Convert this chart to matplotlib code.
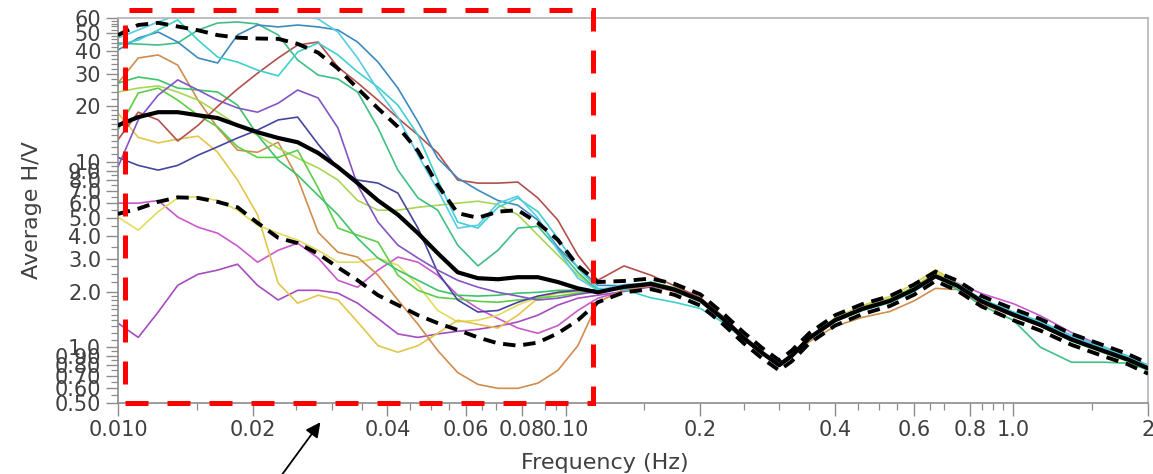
import matplotlib
matplotlib.use('Agg')
import matplotlib.pyplot as plt
from matplotlib.patches import Rectangle

# ---------------- data ----------------
freq = [0.0100, 0.0111, 0.0123, 0.0136, 0.0151, 0.0167, 0.0185, 0.0205, 0.0228, 0.0252,
        0.0280, 0.0310, 0.0343, 0.0381, 0.0422, 0.0468, 0.0518, 0.0574, 0.0637, 0.0706,
        0.0782, 0.0867, 0.0961, 0.1065, 0.1180,
        0.135, 0.155, 0.175, 0.20, 0.225, 0.25, 0.275, 0.30, 0.32, 0.35, 0.40, 0.46,
        0.53, 0.60, 0.67, 0.75, 0.85, 1.0, 1.15, 1.35, 1.6, 1.8, 2.0]

hv_steelblue = [40.3, 46.8, 50.4, 44.5, 36.5, 34.3, 48.6, 55.0, 53.7, 55.0, 53.7, 51.7, 44.5, 34.7, 25.1,
                16.5, 10.5, 8.2, 7.06, 6.2, 5.85, 4.86, 3.47, 2.71, 2.16,
                2.15, 2.18, 2.02, 1.76, 1.40, 1.10, 0.92, 0.80, 0.91, 1.14, 1.42, 1.60, 1.76, 2.02,
                2.40, 2.18, 1.80, 1.52, 1.36, 1.14, 0.98, 0.89, 0.79]
hv_seagreen = [44.0, 43.4, 42.9, 44.0, 51.7, 56.4, 57.1, 55.7, 48.6, 35.6, 29.5, 28.1, 23.9, 15.3, 9.05,
               6.4, 5.5, 3.56, 2.75, 3.34, 4.4, 4.5, 3.4, 2.54, 2.03,
               2.10, 2.25, 2.08, 1.82, 1.45, 1.14, 0.94, 0.81, 0.89, 1.10, 1.38, 1.60, 1.80, 2.10,
               2.45, 2.05, 1.68, 1.40, 1.00, 0.83, 0.83, 0.82, 0.76]
hv_turquoise = [42.9, 45.6, 51.7, 58.6, 45.6, 36.9, 34.7, 31.4, 29.2, 39.3, 44.0, 37.9, 30.7, 25.4, 20.3,
                14.0, 8.0, 4.74, 4.4, 5.7, 6.4, 5.4, 3.88, 2.67, 2.08,
                2.05, 1.85, 1.75, 1.62, 1.36, 1.10, 0.92, 0.79, 0.88, 1.10, 1.38, 1.58, 1.74, 2.00,
                2.38, 2.20, 1.82, 1.55, 1.38, 1.16, 1.00, 0.90, 0.80]
hv_cyan = [46.8, 51.7, 57.1, 62.3, 64.7, 66.3, 66.3, 64.7, 63.1, 62.3, 59.3, 50.4, 36.5, 24.5, 17.5,
           10.9, 7.06, 4.4, 4.56, 6.0, 6.55, 5.0, 3.34, 2.36, 2.03,
           2.18, 2.22, 2.06, 1.80, 1.43, 1.12, 0.93, 0.79, 0.90, 1.12, 1.41, 1.63, 1.80, 2.08,
           2.45, 2.20, 1.80, 1.54, 1.37, 1.15, 0.99, 0.89, 0.80]
hv_brownred = [13.2, 18.6, 16.9, 13.0, 15.8, 20.0, 24.8, 30.2, 36.5, 42.9, 44.5, 32.6, 26.8, 21.6, 17.3,
               14.0, 11.2, 8.0, 7.7, 7.7, 7.8, 6.4, 4.86, 3.14, 2.30,
               2.75, 2.45, 2.15, 1.85, 1.46, 1.14, 0.94, 0.81, 0.91, 1.13, 1.42, 1.64, 1.80, 2.06,
               2.42, 2.14, 1.76, 1.49, 1.31, 1.10, 0.95, 0.86, 0.77]
hv_peru = [26.7, 36.5, 37.9, 33.4, 21.6, 15.3, 11.6, 11.3, 12.8, 8.2, 4.18, 3.26, 3.07, 2.45, 1.80,
           1.33, 0.96, 0.73, 0.63, 0.60, 0.60, 0.64, 0.75, 1.02, 1.75,
           2.05, 2.15, 2.00, 1.76, 1.40, 1.10, 0.92, 0.80, 0.88, 1.07, 1.30, 1.45, 1.56, 1.78,
           2.08, 2.05, 1.72, 1.47, 1.30, 1.09, 0.94, 0.85, 0.76]
hv_purple = [9.4, 16.9, 23.0, 27.8, 24.5, 21.6, 19.6, 18.6, 20.8, 24.5, 22.2, 15.3, 7.5, 4.74, 3.56,
             3.03, 2.61, 2.30, 2.11, 1.98, 1.89, 1.80, 1.84, 1.93, 2.00,
             2.15, 2.22, 2.07, 1.83, 1.46, 1.14, 0.94, 0.80, 0.90, 1.13, 1.42, 1.62, 1.78, 2.05,
             2.40, 2.16, 1.78, 1.52, 1.34, 1.12, 0.97, 0.88, 0.78]
hv_navy = [10.6, 9.6, 9.05, 9.6, 10.9, 12.1, 13.5, 14.9, 16.9, 17.5, 12.5, 9.3, 8.0, 7.7, 6.8,
           4.4, 2.54, 1.80, 1.55, 1.58, 1.75, 1.89, 1.98, 2.03, 2.03,
           2.10, 2.17, 2.03, 1.78, 1.41, 1.11, 0.92, 0.79, 0.89, 1.11, 1.39, 1.59, 1.76, 2.02,
           2.38, 2.13, 1.75, 1.48, 1.31, 1.09, 0.94, 0.85, 0.76]
hv_lime = [14.9, 23.6, 25.1, 21.6, 17.9, 15.5, 12.1, 10.6, 10.6, 11.6, 7.25, 4.4, 4.03, 3.7, 2.45,
           2.03, 1.86, 1.82, 1.77, 1.75, 1.80, 1.84, 1.89, 1.96, 2.03,
           2.12, 2.24, 2.10, 1.84, 1.45, 1.13, 0.93, 0.80, 0.90, 1.12, 1.41, 1.62, 1.79, 2.08,
           2.46, 2.17, 1.77, 1.50, 1.30, 1.08, 0.93, 0.84, 0.75]
hv_emerald = [26.7, 28.8, 27.8, 25.1, 24.5, 23.9, 20.3, 14.0, 10.25, 8.5, 6.6, 5.2, 3.88, 3.03, 2.61,
              2.30, 2.03, 1.91, 1.89, 1.91, 1.96, 1.98, 2.03, 2.03, 2.03,
              2.08, 2.18, 2.05, 1.80, 1.43, 1.12, 0.93, 0.80, 0.90, 1.12, 1.40, 1.61, 1.77, 2.04,
              2.42, 2.15, 1.76, 1.49, 1.32, 1.11, 0.96, 0.87, 0.78]
hv_yellowgreen = [23.9, 25.1, 25.8, 23.9, 21.6, 18.6, 15.8, 14.0, 11.9, 10.5, 9.3, 8.0, 6.2, 5.5, 5.5,
                  5.7, 5.85, 6.0, 6.15, 5.9, 5.2, 4.03, 3.14, 2.45, 2.03,
                  2.14, 2.23, 2.08, 1.82, 1.44, 1.13, 0.93, 0.80, 0.91, 1.14, 1.44, 1.66, 1.83, 2.12,
                  2.50, 2.18, 1.78, 1.51, 1.33, 1.11, 0.96, 0.87, 0.78]
hv_gold = [18.4, 13.6, 12.7, 13.3, 13.8, 11.3, 8.0, 5.2, 2.22, 1.73, 1.91, 1.80, 1.37, 1.02, 0.94,
           1.02, 1.19, 1.40, 1.33, 1.27, 1.49, 1.84, 1.96, 2.00, 2.03,
           2.10, 2.20, 2.06, 1.81, 1.44, 1.13, 0.93, 0.80, 0.90, 1.13, 1.44, 1.68, 1.88, 2.20,
           2.62, 2.22, 1.78, 1.50, 1.31, 1.09, 0.94, 0.85, 0.76]
hv_khaki = [5.05, 4.29, 5.4, 6.4, 6.5, 6.2, 5.5, 4.56, 4.13, 3.79, 3.34, 2.88, 2.88, 3.03, 2.78,
            2.16, 1.58, 1.37, 1.40, 1.49, 1.69, 1.86, 1.98, 2.03, 2.03,
            2.09, 2.19, 2.05, 1.80, 1.43, 1.12, 0.92, 0.79, 0.89, 1.11, 1.40, 1.63, 1.82, 2.12,
            2.55, 2.20, 1.78, 1.50, 1.31, 1.09, 0.94, 0.85, 0.76]
hv_magenta = [6.0, 6.0, 6.2, 5.05, 4.45, 4.13, 3.52, 2.88, 3.34, 3.65, 3.03, 2.30, 2.11, 2.61, 3.07,
              2.88, 2.45, 1.91, 1.62, 1.43, 1.27, 1.19, 1.31, 1.58, 1.84,
              2.02, 2.15, 2.04, 1.82, 1.46, 1.15, 0.95, 0.82, 0.92, 1.14, 1.42, 1.62, 1.78, 2.04,
              2.40, 2.22, 1.95, 1.72, 1.48, 1.20, 1.00, 0.89, 0.79]
hv_violet = [1.35, 1.13, 1.55, 2.16, 2.48, 2.61, 2.81, 2.16, 1.80, 2.03, 2.03, 1.96, 1.73, 1.43, 1.18,
             1.13, 1.18, 1.22, 1.25, 1.30, 1.37, 1.49, 1.69, 1.84, 1.91,
             2.00, 2.12, 2.02, 1.79, 1.43, 1.13, 0.94, 0.81, 0.91, 1.13, 1.41, 1.61, 1.78, 2.05,
             2.42, 2.16, 1.79, 1.53, 1.35, 1.13, 0.97, 0.88, 0.78]

hv_mean = [15.8, 17.5, 18.6, 18.6, 17.9, 17.3, 15.8, 14.5, 13.5, 12.8, 11.2, 9.4, 7.7, 6.2, 5.2,
           4.13, 3.22, 2.54, 2.36, 2.33, 2.39, 2.39, 2.25, 2.08, 1.98,
           2.12, 2.20, 2.05, 1.80, 1.42, 1.12, 0.93, 0.80, 0.90, 1.12, 1.40, 1.61, 1.78, 2.05,
           2.42, 2.15, 1.77, 1.50, 1.32, 1.10, 0.95, 0.86, 0.77]
hv_upper = [48.5, 55.0, 56.5, 54.0, 51.5, 48.5, 47.0, 46.5, 46.3, 43.5, 39.0, 32.0, 25.0, 19.5, 15.5,
            11.5, 7.5, 5.3, 5.0, 5.4, 5.5, 4.7, 3.8, 2.75, 2.25,
            2.28, 2.35, 2.20, 1.93, 1.52, 1.20, 0.99, 0.85, 0.96, 1.19, 1.49, 1.71, 1.89, 2.18,
            2.56, 2.29, 1.89, 1.61, 1.42, 1.18, 1.02, 0.92, 0.82]
hv_lower = [5.25, 5.6, 6.1, 6.45, 6.4, 6.1, 5.7, 4.7, 3.9, 3.65, 3.2, 2.7, 2.3, 1.91, 1.69,
            1.49, 1.35, 1.24, 1.13, 1.05, 1.02, 1.06, 1.19, 1.40, 1.75,
            1.98, 2.06, 1.92, 1.68, 1.33, 1.05, 0.87, 0.75, 0.84, 1.05, 1.31, 1.51, 1.67, 1.92,
            2.28, 2.02, 1.66, 1.40, 1.23, 1.03, 0.89, 0.81, 0.72]

x_ticks = [0.01, 0.02, 0.04, 0.06, 0.08, 0.1, 0.2, 0.4, 0.6, 0.8, 1.0, 2.0]
x_labels = ['0.010', '0.02', '0.04', '0.06', '0.08', '0.10', '0.2', '0.4', '0.6', '0.8', '1.0', '2']
x_minor = [0.015, 0.025, 0.03, 0.035, 0.045, 0.05, 0.055, 0.065, 0.07, 0.09, 0.095,
           0.15, 0.25, 0.3, 0.35, 0.45, 0.5, 0.55, 0.65, 0.7, 0.85, 0.9, 0.95, 1.5]
y_ticks = [0.5, 0.6, 0.7, 0.8, 0.9, 1, 2, 3, 4, 5, 6, 7, 8, 9, 10, 20, 30, 40, 50, 60]
y_labels = ['0.50', '0.60', '0.70', '0.80', '0.90', '1.0', '2.0', '3.0', '4.0', '5.0', '6.0',
            '7.0', '8.0', '9.0', '10', '20', '30', '40', '50', '60']
y_minor = [0.55, 0.65, 0.75, 0.85, 0.95, 1.1, 1.2, 1.3, 1.4, 1.5, 1.6, 1.7, 1.8, 1.9,
           2.25, 2.5, 2.75, 3.5, 4.5, 5.5, 6.5, 7.5, 8.5, 9.5,
           11, 12, 13, 14, 15, 16, 17, 18, 19, 22, 24, 26, 28, 32, 34, 36, 38,
           42, 44, 46, 48, 52, 54, 56, 58]

# highlighted window (frequency range, H/V range)
box_f = (0.01037, 0.1151)
box_v = (0.5, 66.3)

# ---------------- plot ----------------
fig = plt.figure(figsize=(11.53, 4.74), dpi=100)
ax = fig.add_axes([0.1023, 0.1498, 0.8934, 0.8122])

colored = [
    (hv_violet, '#a64cc0'), (hv_magenta, '#c95acb'), (hv_khaki, '#e2dc5c'),
    (hv_gold, '#e3c64a'), (hv_peru, '#cf8d4e'), (hv_yellowgreen, '#a8d657'),
    (hv_lime, '#5ccf46'), (hv_emerald, '#3dc46a'), (hv_navy, '#46469e'),
    (hv_purple, '#8455c4'), (hv_brownred, '#b3504c'), (hv_seagreen, '#3fbf86'),
    (hv_steelblue, '#3d8ac0'), (hv_turquoise, '#3fd0cc'), (hv_cyan, '#58cbe6'),
]
for vals, col in colored:
    ax.plot(freq, vals, color=col, lw=1.2, solid_joinstyle='round', zorder=2)

ax.plot(freq, hv_upper, color='black', lw=2.8, ls=(0, (3.2, 2.0)), zorder=4)
ax.plot(freq, hv_lower, color='black', lw=2.8, ls=(0, (3.2, 2.0)), zorder=4)
ax.plot(freq, hv_mean, color='black', lw=3.0, solid_joinstyle='round', zorder=5)

ax.set_xscale('log')
ax.set_yscale('log')
ax.set_xlim(0.01, 2.0)
ax.set_ylim(0.5, 60)

ax.set_xticks(x_ticks)
ax.set_xticklabels(x_labels)
ax.set_xticks(x_minor, minor=True)
ax.set_xticklabels([], minor=True)
ax.set_yticks(y_ticks)
ax.set_yticklabels(y_labels)
ax.set_yticks(y_minor, minor=True)
ax.set_yticklabels([], minor=True)

ax.tick_params(which='major', direction='out', length=9, width=1.0, color='#8c8c8c',
               labelsize=15, labelcolor='#404040', pad=3)
ax.tick_params(which='minor', direction='out', length=5, width=0.9, color='#8c8c8c')

for side in ['left', 'bottom']:
    ax.spines[side].set_color('#8c8c8c')
    ax.spines[side].set_linewidth(1.2)
for side in ['top', 'right']:
    ax.spines[side].set_color('#b4b4b4')
    ax.spines[side].set_linewidth(1.2)

ax.set_xlabel('Frequency (Hz)', fontsize=16, color='#404040')
ax.set_ylabel('Average H/V', fontsize=16, color='#404040')
ax.xaxis.set_label_coords(0.473, -0.13)
ax.yaxis.set_label_coords(-0.074, 0.5)

rect = Rectangle((box_f[0], box_v[0]), box_f[1] - box_f[0], box_v[1] - box_v[0],
                 fill=False, edgecolor='#ff0000', lw=3.6, ls=(0, (4.6, 3.8)),
                 clip_on=False, zorder=6)
ax.add_patch(rect)

ax.annotate('', xy=(0.2793, 0.114), xycoords='figure fraction',
            xytext=(0.2420, -0.01), textcoords='figure fraction',
            arrowprops=dict(arrowstyle='-|>', color='black', lw=1.3, mutation_scale=22),
            annotation_clip=False)

fig.savefig('out.png', dpi=100)
